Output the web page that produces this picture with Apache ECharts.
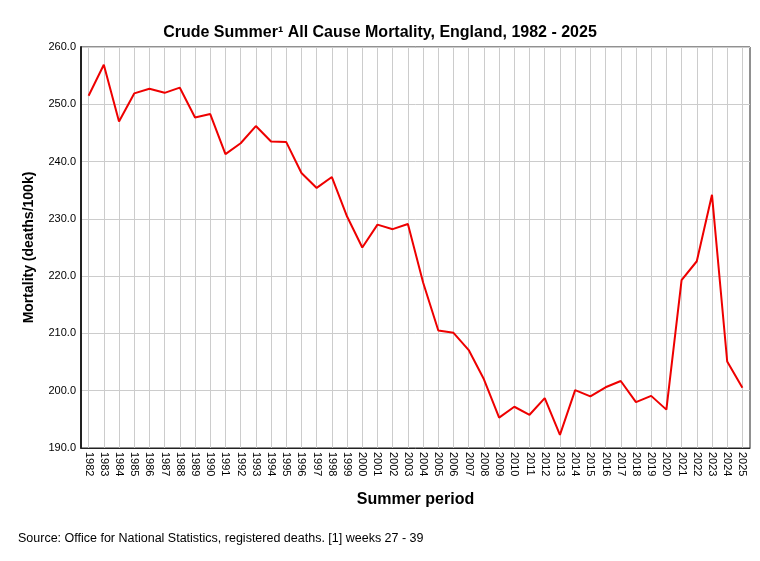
<!DOCTYPE html>
<html>
<head>
<meta charset="utf-8">
<script src="https://cdn.jsdelivr.net/npm/echarts@6/dist/echarts.min.js"></script>
<style>
html, body { margin: 0; padding: 0; background: #fff; }
#container { width: 760px; height: 561px; }
</style>
</head>
<body>
<div id="container"></div>
<script>
var years = [];
for (var y = 1982; y <= 2025; y++) years.push(String(y));

var mortality = [
    251.5, 256.9, 247.0, 251.9, 252.7, 252.0, 252.9, 247.7, 248.3, 241.3,
    243.2, 246.2, 243.5, 243.4, 238.0, 235.4, 237.3, 230.4, 225.0, 229.0,
    228.2, 229.1, 218.9, 210.5, 210.1, 207.1, 202.0, 195.3, 197.2, 195.8,
    198.7, 192.3, 200.1, 199.0, 200.6, 201.7, 198.0, 199.1, 196.7, 219.3,
    222.6, 234.2, 205.1, 200.5
];

var dom = document.getElementById("container");
var myChart = echarts.init(dom);

var option = {
    backgroundColor: '#fff',
    animation: false,
    title: {
        text: 'Crude Summer\u00b9 All Cause Mortality, England, 1982 - 2025',
        left: 'center',
        top: 20,
        textStyle: {
            fontFamily: 'Liberation Sans',
            fontSize: 16,
            fontWeight: 'bold',
            color: '#000'
        }
    },
    graphic: [{
        type: 'text',
        left: 18,
        top: 532,
        style: {
            text: 'Source: Office for National Statistics, registered deaths. [1] weeks 27 - 39',
            fontFamily: 'Liberation Sans',
            fontSize: 12.5,
            fill: '#000'
        }
    }],
    grid: {
        left: 81,
        right: 10,
        top: 47,
        bottom: 113,
        show: true,
        borderColor: '#222',
        borderWidth: 1
    },
    xAxis: {
        type: 'category',
        data: years,
        boundaryGap: true,
        name: 'Summer period',
        nameLocation: 'middle',
        nameGap: 44,
        nameTextStyle: {
            fontFamily: 'Liberation Sans',
            fontSize: 16,
            fontWeight: 'bold',
            color: '#000'
        },
        axisLine: { lineStyle: { color: '#222', width: 1 } },
        axisTick: { show: false },
        axisLabel: {
            interval: 0,
            rotate: -90,
            margin: 4,
            fontFamily: 'Liberation Sans',
            fontSize: 11,
            color: '#000'
        },
        splitLine: {
            show: true,
            alignWithLabel: true,
            interval: 0,
            lineStyle: { color: '#cccccc', width: 1 }
        }
    },
    yAxis: {
        type: 'value',
        min: 190,
        max: 260,
        interval: 10,
        name: 'Mortality (deaths/100k)',
        nameLocation: 'middle',
        nameGap: 45,
        nameTextStyle: {
            fontFamily: 'Liberation Sans',
            fontSize: 14,
            fontWeight: 'bold',
            color: '#000'
        },
        axisLine: { show: true, lineStyle: { color: '#222', width: 2 } },
        axisTick: { show: false },
        axisLabel: {
            margin: 5,
            fontFamily: 'Liberation Sans',
            fontSize: 11,
            color: '#000',
            formatter: function (v) { return v.toFixed(1); }
        },
        splitLine: { show: true, lineStyle: { color: '#cccccc', width: 1 } }
    },
    series: [{
        type: 'line',
        data: mortality,
        symbol: 'none',
        lineStyle: { color: '#ee0000', width: 2 },
        itemStyle: { color: '#ee0000' }
    }]
};

myChart.setOption(option, true);
</script>
</body>
</html>
